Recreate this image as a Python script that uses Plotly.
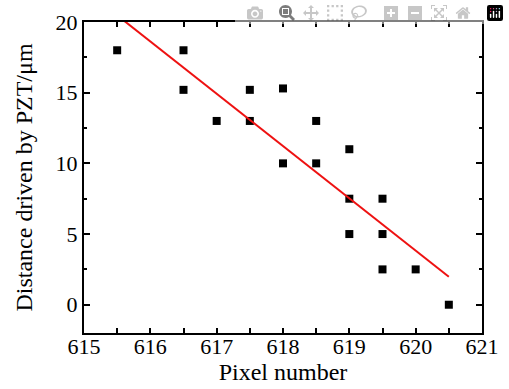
import numpy as np
import plotly.graph_objects as go

pixel = [615.5, 616.5, 616.5, 617.0, 617.5, 617.5, 618.0, 618.0, 618.5, 618.5,
         619.0, 619.0, 619.0, 619.5, 619.5, 619.5, 620.0, 620.5]
distance = [18.0, 18.0, 15.2, 13.0, 15.2, 13.0, 15.3, 10.0, 13.0, 10.0,
            11.0, 7.5, 5.0, 7.5, 5.0, 2.5, 2.5, 0.0]

x_ticks = [615, 616, 617, 618, 619, 620, 621]
y_ticks = [0, 5, 10, 15, 20]

slope, intercept = np.polyfit(pixel, distance, 1)
fit_x = np.array([min(pixel), max(pixel)])
fit_y = slope * fit_x + intercept

# x ticks every half unit, labelled only at whole units
x_tickvals = []
x_ticktext = []
for v in x_ticks:
    x_tickvals.append(v)
    x_ticktext.append(str(v))
    if v != x_ticks[-1]:
        x_tickvals.append(v + 0.5)
        x_ticktext.append("")

FONT = "Liberation Serif"
FS = 22
TFS = 24

fig = go.Figure()
fig.add_trace(go.Scatter(x=pixel, y=distance, mode="markers",
                         marker=dict(symbol="square", size=8, color="black"),
                         showlegend=False, cliponaxis=False))
fig.add_trace(go.Scatter(x=fit_x, y=fit_y, mode="lines",
                         line=dict(color="#ee1111", width=2), showlegend=False))

fig.update_xaxes(range=[615, 621], tickvals=x_tickvals, ticktext=x_ticktext,
                 showgrid=False, zeroline=False, showline=True, linecolor="black", linewidth=2,
                 mirror="ticks", ticks="inside", ticklen=5, tickwidth=2, tickcolor="black",
                 ticklabeloverflow="allow", ticklabelstandoff=-7,
                 tickfont=dict(family=FONT, size=FS, color="black"),
                 title=dict(text="Pixel number", font=dict(family=FONT, size=TFS, color="black"), standoff=0))
fig.update_yaxes(range=[-2, 20], tickvals=y_ticks, ticktext=[str(v) for v in y_ticks],
                 showgrid=False, zeroline=False, showline=True, linecolor="black", linewidth=2,
                 mirror="ticks", ticks="inside", ticklen=6, tickwidth=2, tickcolor="black",
                 ticklabeloverflow="allow",
                 minor=dict(ticks="inside", dtick=2.5, tick0=0, ticklen=3, tickwidth=2, tickcolor="black"),
                 tickfont=dict(family=FONT, size=FS, color="black"),
                 title=dict(text="Distance driven by PZT/μm", font=dict(family=FONT, size=TFS, color="black"), standoff=16))
fig.update_layout(width=509, height=389, margin=dict(l=84, r=24, t=10, b=56),
                  plot_bgcolor="white", paper_bgcolor="white")
fig.write_html("out.html", post_script="document.body.style.margin='0px';")
